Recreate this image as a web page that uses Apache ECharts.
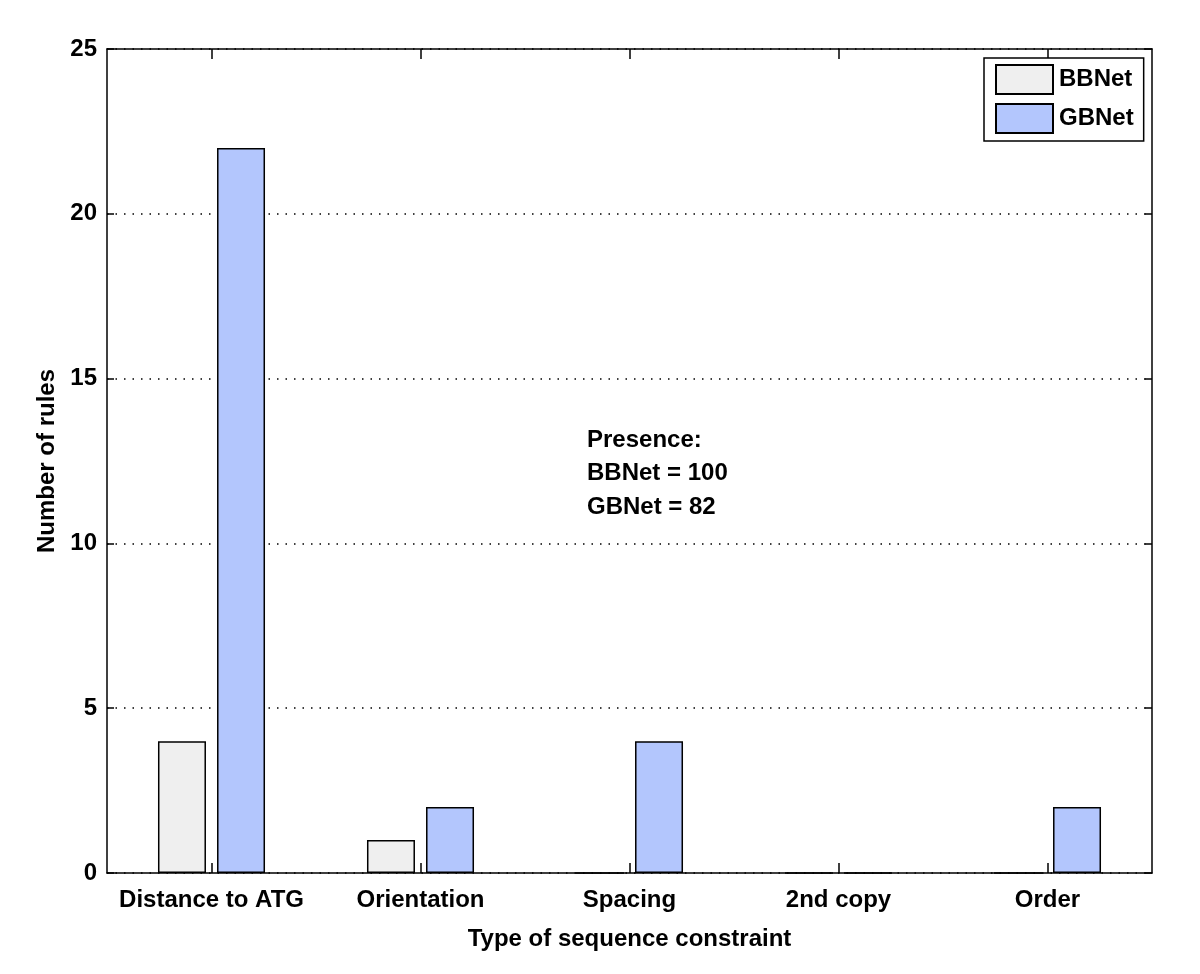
<!DOCTYPE html>
<html>
<head>
<meta charset="utf-8">
<title>Number of rules by type of sequence constraint</title>
<script src="https://cdn.jsdelivr.net/npm/echarts@6/dist/echarts.min.js"></script>
<style>
    html, body { margin: 0; padding: 0; background: #fff; }
    #chart { width: 1200px; height: 974px; }
</style>
</head>
<body>
<div id="chart"></div>
<script>
    var categories = ['Distance to ATG', 'Orientation', 'Spacing', '2nd copy', 'Order'];
    var bbnetValues = [4, 1, 0, 0, 0];
    var gbnetValues = [22, 2, 4, 0, 2];
    var yTicks = [0, 25, 5]; // min, max, interval
    var noteLines = ['Presence:', 'BBNet = 100', 'GBNet = 82'];

    var font = '"Liberation Sans", Arial, sans-serif';
    var axisText = { color: '#000', fontFamily: font, fontWeight: 'bold', fontSize: 24 };
    // onZero off, otherwise the top axis drops down onto y = 0
    var frameLine = { show: true, onZero: false, lineStyle: { color: '#000', width: 1.5 } };
    var xTick = { show: true, inside: true, length: 10, alignWithLabel: true, lineStyle: { color: '#000', width: 1.5 } };
    var yTick = { show: true, inside: true, length: 7, lineStyle: { color: '#000', width: 1.5 } };

    var chart = echarts.init(document.getElementById('chart'));

    var option = {
        backgroundColor: '#fff',
        animation: false,
        grid: { left: 107, right: 48, top: 49, bottom: 101 },
        legend: {
            orient: 'vertical',
            left: 984,
            top: 58,
            padding: [6, 10, 7, 11],
            itemWidth: 57,
            itemHeight: 29,
            itemGap: 8,
            borderColor: '#000',
            borderWidth: 1.5,
            backgroundColor: '#fff',
            icon: 'rect',
            textStyle: { color: '#000', fontFamily: font, fontWeight: 'bold', fontSize: 24, padding: [0, 0, 0, 1] },
            data: ['BBNet', 'GBNet']
        },
        xAxis: [
            {
                type: 'category',
                data: categories,
                position: 'bottom',
                axisLine: frameLine,
                axisTick: xTick,
                axisLabel: Object.assign({ margin: 15, interval: 0 }, axisText),
                name: 'Type of sequence constraint',
                nameLocation: 'middle',
                nameGap: 54,
                nameTextStyle: axisText
            },
            {
                type: 'category',
                data: categories,
                position: 'top',
                axisLine: frameLine,
                axisTick: xTick,
                axisLabel: { show: false }
            }
        ],
        yAxis: [
            {
                type: 'value',
                min: yTicks[0],
                max: yTicks[1],
                interval: yTicks[2],
                position: 'left',
                axisLine: frameLine,
                axisTick: yTick,
                axisLabel: Object.assign({ margin: 10 }, axisText),
                splitLine: { show: true, lineStyle: { color: '#000', width: 1.5, type: [1.5, 7] } },
                name: 'Number of rules',
                nameLocation: 'middle',
                nameGap: 40,
                nameTextStyle: axisText
            },
            {
                type: 'value',
                min: yTicks[0],
                max: yTicks[1],
                interval: yTicks[2],
                position: 'right',
                axisLine: frameLine,
                axisTick: yTick,
                axisLabel: { show: false },
                splitLine: { show: false }
            }
        ],
        graphic: noteLines.map(function (line, i) {
            return {
                type: 'text',
                left: 587,
                top: 428 + i * 33.5,
                style: { text: line, fill: '#000', font: 'bold 24px ' + font }
            };
        }),
        series: [
            {
                name: 'BBNet',
                type: 'bar',
                data: bbnetValues,
                barWidth: 48,
                barGap: '23%',
                itemStyle: { color: '#efefef', borderColor: '#000', borderWidth: 1.5 }
            },
            {
                name: 'GBNet',
                type: 'bar',
                data: gbnetValues,
                barWidth: 48,
                barGap: '23%',
                itemStyle: { color: '#b3c6fd', borderColor: '#000', borderWidth: 1.5 }
            }
        ]
    };

    chart.setOption(option);
</script>
</body>
</html>
